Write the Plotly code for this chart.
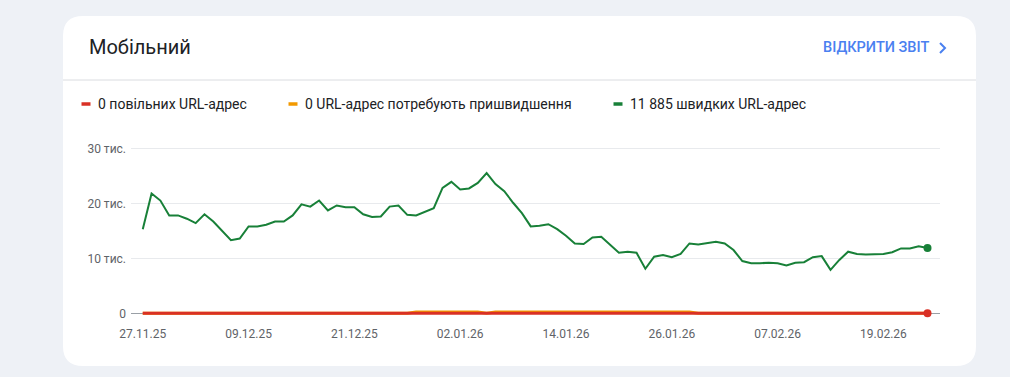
import pandas as pd
import plotly.graph_objects as go

# ---------------- data ----------------
start_date = "2025-11-27"
fast_urls = [
    15300, 21800, 20500, 17800, 17800, 17200, 16400, 18000, 16700, 15000,
    13300, 13600, 15800, 15800, 16100, 16700, 16700, 17800, 19800, 19400,
    20500, 18700, 19600, 19300, 19300, 18000, 17500, 17600, 19400, 19600,
    17900, 17800, 18500, 19100, 22800, 23900, 22500, 22700, 23700, 25500,
    23500, 22200, 20100, 18200, 15800, 15900, 16200, 15300, 14100, 12700,
    12600, 13800, 13900, 12400, 11000, 11200, 11000, 8100, 10300, 10600,
    10200, 10800, 12700, 12500, 12800, 13000, 12700, 11500, 9500, 9100,
    9100, 9200, 9100, 8700, 9200, 9300, 10200, 10400, 7900, 9700,
    11200, 10800, 10700, 10700, 10800, 11100, 11800, 11800, 12200, 11885,
]
needs_improvement = (
    [0] * 31 + [250] * 8 + [0] + [250] * 23 + [0] * 27
)
slow_urls = [0] * 90

dates = pd.date_range(start_date, periods=len(fast_urls), freq="D")

x_tick_dates = ["2025-11-27", "2025-12-09", "2025-12-21", "2026-01-02",
                "2026-01-14", "2026-01-26", "2026-02-07", "2026-02-19"]
x_tick_text = ["27.11.25", "09.12.25", "21.12.25", "02.01.26",
               "14.01.26", "26.01.26", "07.02.26", "19.02.26"]
y_tick_vals = [0, 10000, 20000, 30000]
y_tick_text = ["0", "10 тис.", "20 тис.", "30 тис."]

legend_labels = ["0 повільних URL-адрес",
                 "0 URL-адрес потребують пришвидшення",
                 "11 885 швидких URL-адрес"]
card_title = "Мобільний"
link_text = "ВІДКРИТИ ЗВІТ"

# ---------------- style ----------------
RED = "#d93025"
ORANGE = "#f29900"
GREEN = "#188038"
BG = "#eef1f6"
FONT = "Roboto"

W, H = 1010, 377
ML, MR, MT, MB = 131, 70, 146, 58
PW = W - ML - MR
PH = H - MT - MB


def px(x):
    return (x - ML) / PW


def py(y):
    return (H - MB - y) / PH


fig = go.Figure()

fig.add_trace(go.Scatter(x=dates, y=needs_improvement, mode="lines",
                         line=dict(color=ORANGE, width=3), hoverinfo="skip"))
fig.add_trace(go.Scatter(x=dates, y=slow_urls, mode="lines",
                         line=dict(color=RED, width=3), hoverinfo="skip"))
fig.add_trace(go.Scatter(x=dates, y=fast_urls, mode="lines",
                         line=dict(color=GREEN, width=2), hoverinfo="skip"))
fig.add_trace(go.Scatter(x=[dates[-1]], y=[slow_urls[-1]], mode="markers",
                         marker=dict(color=RED, size=8), cliponaxis=False,
                         hoverinfo="skip"))
fig.add_trace(go.Scatter(x=[dates[-1]], y=[fast_urls[-1]], mode="markers",
                         marker=dict(color=GREEN, size=8), cliponaxis=False,
                         hoverinfo="skip"))

x0 = pd.Timestamp(start_date) - pd.Timedelta(hours=32)
x1 = pd.Timestamp(start_date) + pd.Timedelta(hours=2170)

fig.update_xaxes(range=[x0, x1], showgrid=False, showline=False, zeroline=False,
                 ticks="", tickvals=x_tick_dates, ticktext=x_tick_text,
                 ticklabelstandoff=6,
                 tickfont=dict(family=FONT, size=12, color="#5f6368"))
fig.update_yaxes(range=[-1036, 30418], showgrid=True, gridcolor="#e8eaed",
                 gridwidth=1, zeroline=True, zerolinecolor="#9aa0a6",
                 zerolinewidth=1, showline=False, ticks="",
                 tickvals=y_tick_vals, ticktext=y_tick_text,
                 ticklabelstandoff=4,
                 tickfont=dict(family=FONT, size=12, color="#5f6368"))

shapes = []
# card with rounded corners
cl, ct, cr, cb, r = 63, 16, 976, 366, 20
path = (f"M {px(cl + r)},{py(ct)} L {px(cr - r)},{py(ct)} "
        f"Q {px(cr)},{py(ct)} {px(cr)},{py(ct + r)} "
        f"L {px(cr)},{py(cb - r)} Q {px(cr)},{py(cb)} {px(cr - r)},{py(cb)} "
        f"L {px(cl + r)},{py(cb)} Q {px(cl)},{py(cb)} {px(cl)},{py(cb - r)} "
        f"L {px(cl)},{py(ct + r)} Q {px(cl)},{py(ct)} {px(cl + r)},{py(ct)} Z")
shapes.append(dict(type="path", path=path, xref="paper", yref="paper",
                   fillcolor="white", line=dict(width=0), layer="below"))
# separator
shapes.append(dict(type="line", xref="paper", yref="paper",
                   x0=px(cl), x1=px(cr), y0=py(80), y1=py(80),
                   line=dict(color="#dadce0", width=1), layer="below"))
# chevron
shapes.append(dict(type="path", xref="paper", yref="paper",
                   path=f"M {px(940)},{py(43)} L {px(945)},{py(48)} L {px(940)},{py(53)}",
                   line=dict(color="#4a80f0", width=2)))

annotations = [
    dict(text=card_title, x=px(87), y=py(47), xref="paper", yref="paper",
         xanchor="left", yanchor="middle", showarrow=False,
         font=dict(family=FONT, size=20, color="#202124")),
    dict(text=link_text, x=px(931), y=py(48), xref="paper", yref="paper",
         xanchor="right", yanchor="middle", showarrow=False,
         font=dict(family=FONT, size=14.5, color="#4a80f0", weight=500)),
]

legend_colors = [RED, ORANGE, GREEN]
legend_x = [80, 287, 612]
for lab, col, lx in zip(legend_labels, legend_colors, legend_x):
    shapes.append(dict(type="line", xref="paper", yref="paper",
                       x0=px(lx + 1.5), x1=px(lx + 10.5), y0=py(104), y1=py(104),
                       line=dict(color=col, width=3.5)))
    annotations.append(dict(text=lab, x=px(lx + 16), y=py(104), xref="paper",
                            yref="paper", xanchor="left", yanchor="middle",
                            showarrow=False,
                            font=dict(family=FONT, size=14, color="#202124")))

fig.update_layout(
    width=W, height=H,
    margin=dict(l=ML, r=MR, t=MT, b=MB, pad=0),
    paper_bgcolor=BG, plot_bgcolor="rgba(0,0,0,0)",
    showlegend=False, shapes=shapes, annotations=annotations,
    hovermode=False,
)

fig.write_html("out.html", config={"displayModeBar": False},
               post_script="document.body.style.margin='0';"
                           "document.body.style.background='" + BG + "';")
